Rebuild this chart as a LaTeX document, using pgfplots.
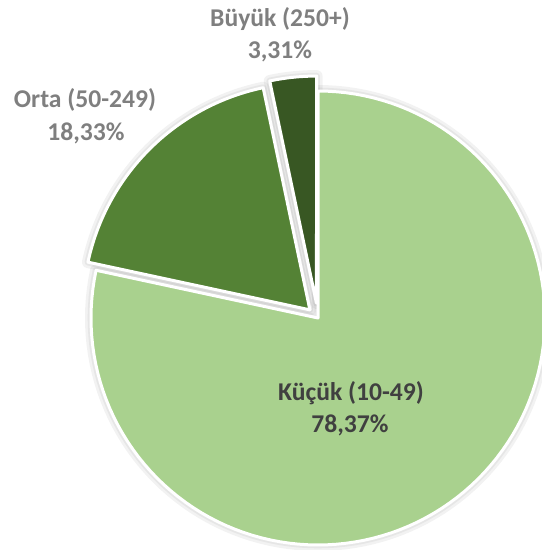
\documentclass[border=0pt]{standalone}
\usepackage{pgfplots}
\pgfplotsset{compat=1.18}
\usepackage{fontspec}
\setmainfont{Carlito}
\definecolor{kucuk}{HTML}{A9D18E}
\definecolor{orta}{HTML}{548235}
\definecolor{buyuk}{HTML}{385723}
\definecolor{lblgray}{HTML}{7F7F7F}
\definecolor{lbldark}{HTML}{404040}

% Paylar (%)
\def\pKucuk{78.37}
\def\pOrta{18.33}
\def\pBuyuk{3.31}
% merkez ve yaricap (piksel birimi)
\def\cx{318}
\def\cy{232}
\def\R{227}

% dilim acilari: saat 12'den saat yonunde
\pgfmathsetmacro{\aA}{90-3.6*\pKucuk}
\pgfmathsetmacro{\aB}{\aA-3.6*\pOrta}
\pgfmathsetmacro{\aC}{\aB-3.6*\pBuyuk}
% disari cekilmis dilimlerin merkezleri
\pgfmathsetmacro{\oxB}{\cx+11.5*cos((\aA+\aB)/2)}
\pgfmathsetmacro{\oyB}{\cy+11.5*sin((\aA+\aB)/2)}
\pgfmathsetmacro{\oxC}{\cx+15*cos((\aB+\aC)/2)}
\pgfmathsetmacro{\oyC}{\cy+15*sin((\aB+\aC)/2)}

\pgfplotsset{
  shadow/.style={draw=black, opacity=0.05, line width=#1, line join=round, fill=none},
  slice/.style={fill=#1, draw=white, line width=2.25pt, line join=round},
}

\begin{document}
\begin{tikzpicture}
\begin{axis}[
    width=406.5pt, height=412.5pt, scale only axis,
    xmin=0, xmax=542, ymin=0, ymax=550,
    hide axis,
    samples=120, variable=\t, no markers,
]
\coordinate (bl) at (rel axis cs:0,0);
\coordinate (tr) at (rel axis cs:1,1);

% yumusak golge
\addplot[shadow=9pt, domain=\aA:90] ({\cx+\R*cos(t)},{\cy+\R*sin(t)}) -- (\cx,\cy) -- cycle;
\addplot[shadow=5pt, domain=\aA:90] ({\cx+\R*cos(t)},{\cy+\R*sin(t)}) -- (\cx,\cy) -- cycle;
\addplot[shadow=9pt, domain=\aB:\aA] ({\oxB+\R*cos(t)},{\oyB+\R*sin(t)}) -- (\oxB,\oyB) -- cycle;
\addplot[shadow=5pt, domain=\aB:\aA] ({\oxB+\R*cos(t)},{\oyB+\R*sin(t)}) -- (\oxB,\oyB) -- cycle;
\addplot[shadow=9pt, domain=\aC:\aB, samples=20] ({\oxC+\R*cos(t)},{\oyC+\R*sin(t)}) -- (\oxC,\oyC) -- cycle;
\addplot[shadow=5pt, domain=\aC:\aB, samples=20] ({\oxC+\R*cos(t)},{\oyC+\R*sin(t)}) -- (\oxC,\oyC) -- cycle;

% dilimler
\addplot[slice=kucuk, domain=\aA:90] ({\cx+\R*cos(t)},{\cy+\R*sin(t)}) -- (\cx,\cy) -- cycle;
\addplot[slice=orta, domain=\aB:\aA] ({\oxB+\R*cos(t)},{\oyB+\R*sin(t)}) -- (\oxB,\oyB) -- cycle;
\addplot[slice=buyuk, domain=\aC:\aB, samples=20] ({\oxC+\R*cos(t)},{\oyC+\R*sin(t)}) -- (\oxC,\oyC) -- cycle;

% etiketler
\tikzset{lbl/.style={font=\bfseries\fontsize{19.2}{23}\selectfont, anchor=base, inner sep=0pt}}
\node[lbl, text=lblgray] at (280,523) {Büyük (250+)};
\node[lbl, text=lblgray] at (280,491) {3,31\%};
\node[lbl, text=lblgray] at (85,442) {Orta (50-249)};
\node[lbl, text=lblgray] at (86,409) {18,33\%};
\node[lbl, text=lbldark] at (351,149) {Küçük (10-49)};
\node[lbl, text=lbldark] at (350,117) {78,37\%};
\end{axis}
\pgfresetboundingbox
\useasboundingbox (bl) rectangle (tr);
\end{tikzpicture}
\end{document}
